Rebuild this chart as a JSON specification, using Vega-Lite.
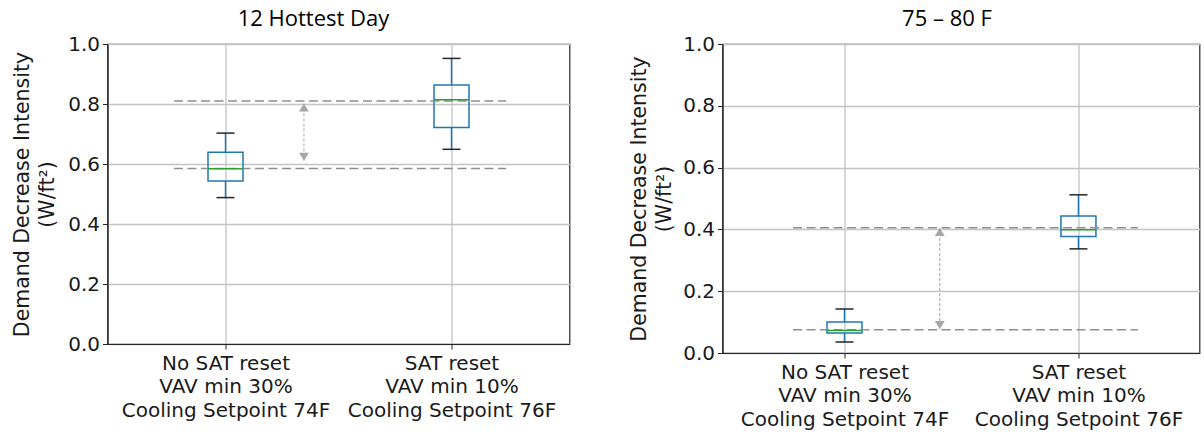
{
  "$schema": "https://vega.github.io/schema/vega-lite/v6.json",
  "padding": {"left": 11.5, "top": 7, "right": 0, "bottom": 0},
  "background": "white",
  "spacing": 58,
  "datasets": {
    "boxes": [
      {"panel": "A", "pos": 0.25, "lo": 0.488, "q1": 0.543, "med": 0.584, "q3": 0.639, "hi": 0.703},
      {"panel": "A", "pos": 0.75, "lo": 0.649, "q1": 0.722, "med": 0.814, "q3": 0.863, "hi": 0.952},
      {"panel": "B", "pos": 0.25, "lo": 0.036, "q1": 0.065, "med": 0.073, "q3": 0.1, "hi": 0.142},
      {"panel": "B", "pos": 0.75, "lo": 0.337, "q1": 0.377, "med": 0.399, "q3": 0.443, "hi": 0.512}
    ],
    "refs": [
      {"panel": "A", "y": 0.81, "x1": 0.136, "x2": 0.871},
      {"panel": "A", "y": 0.585, "x1": 0.136, "x2": 0.871},
      {"panel": "B", "y": 0.4055, "x1": 0.14, "x2": 0.877},
      {"panel": "B", "y": 0.0754, "x1": 0.14, "x2": 0.877}
    ],
    "arrows": [
      {"panel": "A", "x": 0.4236, "top": 0.802, "bot": 0.611},
      {"panel": "B", "x": 0.4536, "top": 0.4045, "bot": 0.0777}
    ]
  },
  "config": {
    "view": {"stroke": "#262626", "strokeWidth": 1.2},
    "axis": {
      "labelFont": "DejaVu Sans", "labelFontSize": 20, "labelColor": "#1a1a1a", "labelLimit": 0,
      "titleFont": "DejaVu Sans", "titleFontSize": 20.5, "titleFontWeight": "normal", "titleColor": "#1a1a1a",
      "gridColor": "#c4c4c4", "gridWidth": 1.3, "tickColor": "#262626", "tickSize": 5,
      "domainColor": "#262626", "domainWidth": 1.2, "labelPadding": 3
    },
    "title": {"font": "Open Sans", "fontSize": 22, "fontWeight": "normal", "color": "#000000", "offset": 3}
  },
  "hconcat": [
    {
      "width": 462,
      "height": 300,
      "title": {"text": "12 Hottest Day", "dx": -25},
      "layer": [
        {
          "data": {"name": "boxes"},
          "transform": [{"filter": "datum.panel == 'A'"}],
          "mark": {"type": "rule", "color": "#1f77b4", "strokeWidth": 1.5},
          "encoding": {
            "x": {"field": "pos", "type": "quantitative", "scale": {"domain": [0, 1], "nice": false},
                  "axis": {"values": [0.25, 0.75], "title": null, "grid": true, "labelPadding": 4, "labelLineHeight": 23.5, "labelOverlap": false,
                           "labelExpr": "datum.value < 0.5 ? ['No SAT reset', 'VAV min 30%', 'Cooling Setpoint 74F'] : ['SAT reset', 'VAV min 10%', 'Cooling Setpoint 76F']"}},
            "y": {"field": "lo", "type": "quantitative", "scale": {"domain": [0, 1], "nice": false, "zero": false},
                  "axis": {"values": [0, 0.2, 0.4, 0.6, 0.8, 1.0], "format": ".1f", "grid": true,
                           "title": ["Demand Decrease Intensity", "(W/ft²)"], "titleLineHeight": 25, "titlePadding": 10.5}},
            "y2": {"field": "q1"}
          }
        },
        {
          "data": {"name": "boxes"},
          "transform": [{"filter": "datum.panel == 'A'"}],
          "mark": {"type": "rule", "color": "#1f77b4", "strokeWidth": 1.5},
          "encoding": {
            "x": {"field": "pos", "type": "quantitative"},
            "y": {"field": "q3", "type": "quantitative"},
            "y2": {"field": "hi"}
          }
        },
        {
          "data": {"name": "boxes"},
          "transform": [{"filter": "datum.panel == 'A'"}],
          "mark": {"type": "bar", "size": 35, "fill": "white", "fillOpacity": 0, "stroke": "#1f77b4", "strokeWidth": 1.5},
          "encoding": {
            "x": {"field": "pos", "type": "quantitative"},
            "y": {"field": "q1", "type": "quantitative"},
            "y2": {"field": "q3"}
          }
        },
        {
          "data": {"name": "boxes"},
          "transform": [{"filter": "datum.panel == 'A'"}],
          "mark": {"type": "tick", "orient": "horizontal", "size": 18, "thickness": 1.5, "color": "#262626", "opacity": 1},
          "encoding": {
            "x": {"field": "pos", "type": "quantitative"},
            "y": {"field": "lo", "type": "quantitative"}
          }
        },
        {
          "data": {"name": "boxes"},
          "transform": [{"filter": "datum.panel == 'A'"}],
          "mark": {"type": "tick", "orient": "horizontal", "size": 18, "thickness": 1.5, "color": "#262626", "opacity": 1},
          "encoding": {
            "x": {"field": "pos", "type": "quantitative"},
            "y": {"field": "hi", "type": "quantitative"}
          }
        },
        {
          "data": {"name": "refs"},
          "transform": [{"filter": "datum.panel == 'A'"}],
          "mark": {"type": "rule", "color": "#8f8f8f", "strokeWidth": 1.5, "strokeDash": [9, 4.5]},
          "encoding": {
            "x": {"field": "x1", "type": "quantitative"},
            "x2": {"field": "x2"},
            "y": {"field": "y", "type": "quantitative"}
          }
        },
        {
          "data": {"name": "boxes"},
          "transform": [{"filter": "datum.panel == 'A'"}],
          "mark": {"type": "tick", "orient": "horizontal", "size": 35, "thickness": 1.5, "color": "#2ca02c", "opacity": 1},
          "encoding": {
            "x": {"field": "pos", "type": "quantitative"},
            "y": {"field": "med", "type": "quantitative"}
          }
        },
        {
          "data": {"name": "arrows"},
          "transform": [{"filter": "datum.panel == 'A'"}],
          "mark": {"type": "rule", "color": "#a6a6a6", "strokeWidth": 1, "strokeDash": [3, 2]},
          "encoding": {
            "x": {"field": "x", "type": "quantitative"},
            "y": {"field": "top", "type": "quantitative"},
            "y2": {"field": "bot"}
          }
        },
        {
          "data": {"name": "arrows"},
          "transform": [{"filter": "datum.panel == 'A'"}],
          "mark": {"type": "point", "shape": "M0,0L1,1.6L-1,1.6Z", "size": 100, "filled": true, "color": "#a6a6a6", "opacity": 1, "strokeWidth": 0},
          "encoding": {
            "x": {"field": "x", "type": "quantitative"},
            "y": {"field": "top", "type": "quantitative"}
          }
        },
        {
          "data": {"name": "arrows"},
          "transform": [{"filter": "datum.panel == 'A'"}],
          "mark": {"type": "point", "shape": "M0,0L1,-1.6L-1,-1.6Z", "size": 100, "filled": true, "color": "#a6a6a6", "opacity": 1, "strokeWidth": 0},
          "encoding": {
            "x": {"field": "x", "type": "quantitative"},
            "y": {"field": "bot", "type": "quantitative"}
          }
        }
      ]
    },
    {
      "width": 477,
      "height": 309,
      "title": {"text": "75 – 80 F", "dx": -14},
      "layer": [
        {
          "data": {"name": "boxes"},
          "transform": [{"filter": "datum.panel == 'B'"}],
          "mark": {"type": "rule", "color": "#1f77b4", "strokeWidth": 1.5},
          "encoding": {
            "x": {"field": "pos", "type": "quantitative", "scale": {"domain": [0, 0.998], "nice": false},
                  "axis": {"values": [0.25, 0.75], "title": null, "grid": true, "labelPadding": 4, "labelLineHeight": 23.5, "labelOverlap": false,
                           "labelExpr": "datum.value < 0.5 ? ['No SAT reset', 'VAV min 30%', 'Cooling Setpoint 74F'] : ['SAT reset', 'VAV min 10%', 'Cooling Setpoint 76F']"}},
            "y": {"field": "lo", "type": "quantitative", "scale": {"domain": [0, 1], "nice": false, "zero": false},
                  "axis": {"values": [0, 0.2, 0.4, 0.6, 0.8, 1.0], "format": ".1f", "grid": true,
                           "title": ["Demand Decrease Intensity", "(W/ft²)"], "titleLineHeight": 25, "titlePadding": 8}},
            "y2": {"field": "q1"}
          }
        },
        {
          "data": {"name": "boxes"},
          "transform": [{"filter": "datum.panel == 'B'"}],
          "mark": {"type": "rule", "color": "#1f77b4", "strokeWidth": 1.5},
          "encoding": {
            "x": {"field": "pos", "type": "quantitative"},
            "y": {"field": "q3", "type": "quantitative"},
            "y2": {"field": "hi"}
          }
        },
        {
          "data": {"name": "boxes"},
          "transform": [{"filter": "datum.panel == 'B'"}],
          "mark": {"type": "bar", "size": 35, "fill": "white", "fillOpacity": 0, "stroke": "#1f77b4", "strokeWidth": 1.5},
          "encoding": {
            "x": {"field": "pos", "type": "quantitative"},
            "y": {"field": "q1", "type": "quantitative"},
            "y2": {"field": "q3"}
          }
        },
        {
          "data": {"name": "boxes"},
          "transform": [{"filter": "datum.panel == 'B'"}],
          "mark": {"type": "tick", "orient": "horizontal", "size": 18, "thickness": 1.5, "color": "#262626", "opacity": 1},
          "encoding": {
            "x": {"field": "pos", "type": "quantitative"},
            "y": {"field": "lo", "type": "quantitative"}
          }
        },
        {
          "data": {"name": "boxes"},
          "transform": [{"filter": "datum.panel == 'B'"}],
          "mark": {"type": "tick", "orient": "horizontal", "size": 18, "thickness": 1.5, "color": "#262626", "opacity": 1},
          "encoding": {
            "x": {"field": "pos", "type": "quantitative"},
            "y": {"field": "hi", "type": "quantitative"}
          }
        },
        {
          "data": {"name": "refs"},
          "transform": [{"filter": "datum.panel == 'B'"}],
          "mark": {"type": "rule", "color": "#8f8f8f", "strokeWidth": 1.5, "strokeDash": [9, 4.5]},
          "encoding": {
            "x": {"field": "x1", "type": "quantitative"},
            "x2": {"field": "x2"},
            "y": {"field": "y", "type": "quantitative"}
          }
        },
        {
          "data": {"name": "boxes"},
          "transform": [{"filter": "datum.panel == 'B'"}],
          "mark": {"type": "tick", "orient": "horizontal", "size": 35, "thickness": 1.5, "color": "#2ca02c", "opacity": 1},
          "encoding": {
            "x": {"field": "pos", "type": "quantitative"},
            "y": {"field": "med", "type": "quantitative"}
          }
        },
        {
          "data": {"name": "arrows"},
          "transform": [{"filter": "datum.panel == 'B'"}],
          "mark": {"type": "rule", "color": "#a6a6a6", "strokeWidth": 1, "strokeDash": [3, 2]},
          "encoding": {
            "x": {"field": "x", "type": "quantitative"},
            "y": {"field": "top", "type": "quantitative"},
            "y2": {"field": "bot"}
          }
        },
        {
          "data": {"name": "arrows"},
          "transform": [{"filter": "datum.panel == 'B'"}],
          "mark": {"type": "point", "shape": "M0,0L1,1.6L-1,1.6Z", "size": 100, "filled": true, "color": "#a6a6a6", "opacity": 1, "strokeWidth": 0},
          "encoding": {
            "x": {"field": "x", "type": "quantitative"},
            "y": {"field": "top", "type": "quantitative"}
          }
        },
        {
          "data": {"name": "arrows"},
          "transform": [{"filter": "datum.panel == 'B'"}],
          "mark": {"type": "point", "shape": "M0,0L1,-1.6L-1,-1.6Z", "size": 100, "filled": true, "color": "#a6a6a6", "opacity": 1, "strokeWidth": 0},
          "encoding": {
            "x": {"field": "x", "type": "quantitative"},
            "y": {"field": "bot", "type": "quantitative"}
          }
        }
      ]
    }
  ]
}
